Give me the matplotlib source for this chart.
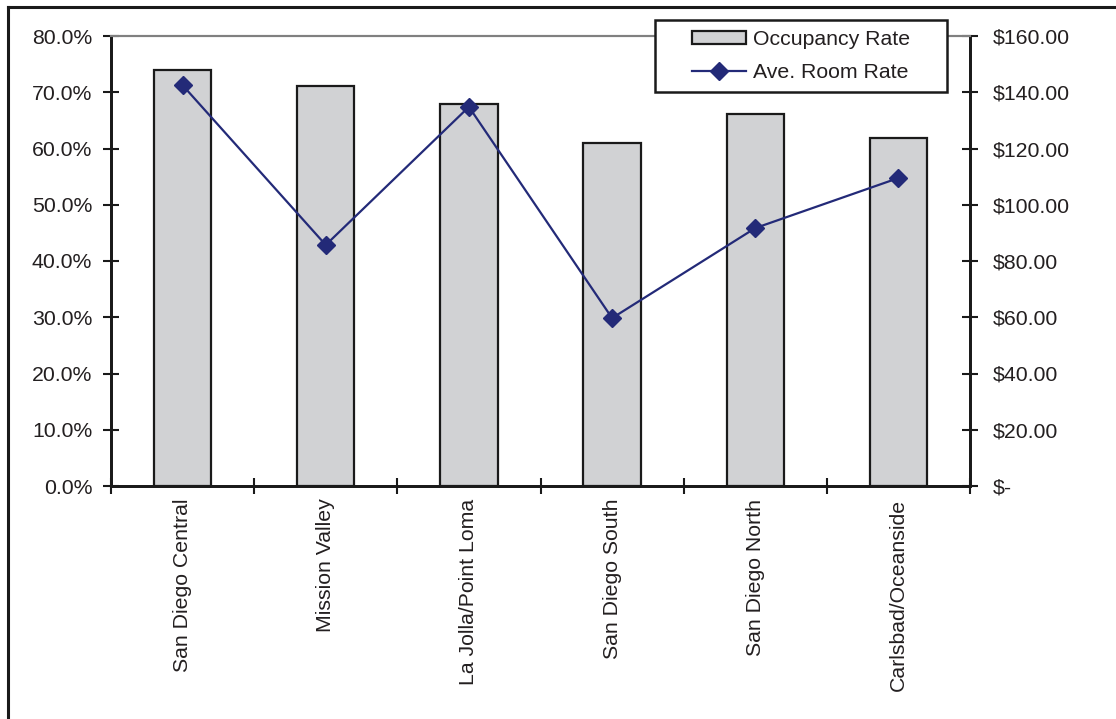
import matplotlib
matplotlib.use("Agg")
import matplotlib.pyplot as plt
from matplotlib.lines import Line2D
from matplotlib.patches import Patch, Rectangle
from matplotlib.ticker import FuncFormatter, FixedLocator
import numpy as np

regions = ["San Diego Central", "Mission Valley", "La Jolla/Point Loma",
           "San Diego South", "San Diego North", "Carlsbad/Oceanside"]
occupancy_pct = [73.9, 71.1, 67.9, 61.0, 66.1, 61.9]
room_rate = [142.5, 85.7, 134.8, 59.7, 91.7, 109.5]

occ_ticks = [0, 10, 20, 30, 40, 50, 60, 70, 80]
rate_ticks = [0, 20, 40, 60, 80, 100, 120, 140, 160]

plt.rcParams['font.family'] = ['Liberation Sans', 'DejaVu Sans']
text_color = '#231f20'
bar_color = '#d1d2d4'
line_color = '#232a78'
fs = 15.3

W, H = 1116, 719
fig = plt.figure(figsize=(W / 100, H / 100), dpi=100)
fig.patch.set_facecolor('white')

left, right, top, bottom = 111, 970, 36, 486
ax = fig.add_axes([left / W, 1 - bottom / H, (right - left) / W, (bottom - top) / H])
ax2 = ax.twinx()

x = np.arange(len(regions))
ax.bar(x, occupancy_pct, width=0.4, color=bar_color, edgecolor='#1a1a1a',
       linewidth=1.6, zorder=2)
ax.set_xlim(-0.5, len(regions) - 0.5)
ax.set_ylim(0, 80)

ax2.plot(x, room_rate, color=line_color, linewidth=1.6, marker='D',
         markersize=8.8, markerfacecolor=line_color, markeredgecolor=line_color,
         zorder=3)
ax2.set_ylim(0, 160)

# Axis ticks and labels
ax.yaxis.set_major_locator(FixedLocator(occ_ticks))
ax.yaxis.set_major_formatter(FuncFormatter(lambda v, p: f"{v:.1f}%"))
ax2.yaxis.set_major_locator(FixedLocator(rate_ticks))
ax2.yaxis.set_major_formatter(
    FuncFormatter(lambda v, p: "$-" if v == 0 else f"${v:.2f}"))

ax.xaxis.set_major_locator(FixedLocator(np.arange(len(regions) + 1) - 0.5))
ax.xaxis.set_major_formatter(FuncFormatter(lambda v, p: ""))
ax.xaxis.set_minor_locator(FixedLocator(x))
ax.set_xticklabels(regions, minor=True, rotation=90, fontsize=fs,
                   color=text_color, va='top', ha='center')
ax.tick_params(axis='x', which='minor', length=0, pad=9)
ax.tick_params(axis='x', which='major', direction='inout', length=11,
               width=1.5, color='#1a1a1a')
ax.tick_params(axis='y', direction='inout', length=11, width=1.5,
               color='#1a1a1a', labelsize=fs, labelcolor=text_color, pad=8)
ax2.tick_params(axis='y', direction='inout', length=11, width=1.5,
                color='#1a1a1a', labelsize=fs, labelcolor=text_color, pad=11)

for a in (ax, ax2):
    a.spines['top'].set_color('#808080')
    a.spines['top'].set_linewidth(1.5)
    for s in ('left', 'right', 'bottom'):
        a.spines[s].set_color('#1a1a1a')
        a.spines[s].set_linewidth(2)
    a.set_facecolor('none')

# Legend box, drawn over the top spine
lx0, lx1, ly0, ly1 = 655, 947, 20, 92
fig.add_artist(Rectangle((lx0 / W, 1 - ly1 / H), (lx1 - lx0) / W, (ly1 - ly0) / H,
                         transform=fig.transFigure, facecolor='white',
                         edgecolor='#1a1a1a', linewidth=1.8, zorder=3))
handles = [Patch(facecolor=bar_color, edgecolor='#1a1a1a', linewidth=1.6),
           Line2D([], [], color=line_color, linewidth=1.6, marker='D',
                  markersize=8.8, markerfacecolor=line_color)]
leg = fig.legend(handles, ["Occupancy Rate", "Ave. Room Rate"],
                 loc='center', bbox_to_anchor=((lx0 + lx1) / 2 / W,
                                               1 - (ly0 + ly1) / 2 / H),
                 bbox_transform=fig.transFigure, borderaxespad=0,
                 fontsize=fs, frameon=False, handlelength=2.55,
                 handleheight=0.56, handletextpad=0.35, labelspacing=0.68,
                 borderpad=0)
for t in leg.get_texts():
    t.set_color(text_color)
leg.set_zorder(5)

# Outer chart frame
fig.add_artist(Line2D([8 / W, 1.0], [1 - 7 / H, 1 - 7 / H],
                      transform=fig.transFigure, color='#1a1a1a', linewidth=2.2))
fig.add_artist(Line2D([8 / W, 8 / W], [0, 1 - 7 / H],
                      transform=fig.transFigure, color='#1a1a1a', linewidth=2.2))

fig.savefig("out.png", dpi=100)
